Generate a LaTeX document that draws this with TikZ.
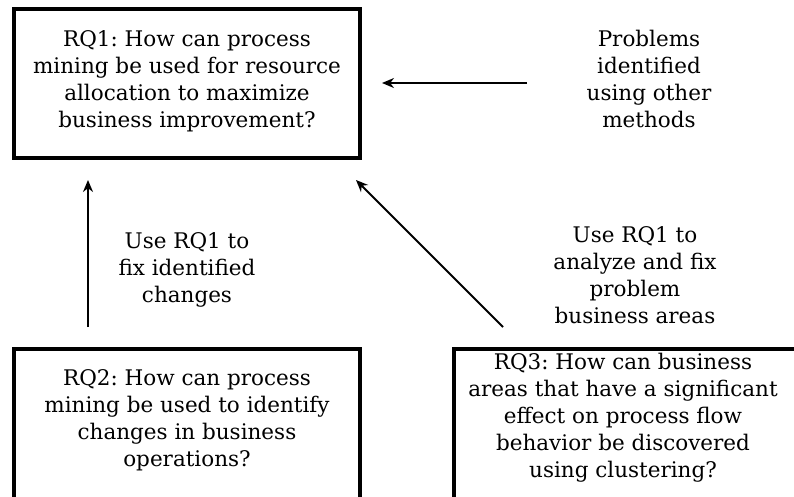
\documentclass[tikz,border=0pt]{standalone}
\usepackage{fontspec}
\setmainfont{DejaVu Serif}
\usetikzlibrary{arrows.meta}
\frenchspacing
\begin{document}
\begin{tikzpicture}[x=1pt,y=-1pt,
  qbox/.style={draw,line width=4pt,inner sep=0pt},
  lbl/.style={align=center,inner sep=0pt,font=\fontsize{21.5}{27}\selectfont},
  arr/.style={line width=2pt,-{Stealth[length=12pt,width=10pt]}}]
\useasboundingbox (0,0) rectangle (794,497);
\clip (0,0) rectangle (794,497);
\node[qbox,minimum width=346pt,minimum height=149pt] (rq1) at (187,83.5) {};
\node[lbl] (rq1t) at (187,81) {RQ1: How can process\\mining be used for resource\\allocation to maximize\\business improvement?};
\node[qbox,minimum width=346pt,minimum height=170pt] (rq2) at (187,434) {};
\node[lbl] (rq2t) at (187,420) {RQ2: How can process\\mining be used to identify\\changes in business\\operations?};
\node[qbox,minimum width=346pt,minimum height=170pt] (rq3) at (627,434) {};
\node[lbl] (rq3t) at (623,418) {RQ3: How can business\\areas that have a significant\\effect on process flow\\behavior be discovered\\using clustering?};
\node[lbl] (prob) at (649,79) {Problems\\identified\\using other\\methods};
\node[lbl] (use1) at (187,270) {Use RQ1 to\\fix identified\\changes};
\node[lbl] (use2) at (635,275) {Use RQ1 to\\analyze and fix\\problem\\business areas};
\coordinate (p1) at (527,83);
\coordinate (p2) at (382,83);
\draw[arr] (p1) -- (p2);
\coordinate (v1) at (88,327);
\coordinate (v2) at (88,180);
\draw[arr] (v1) -- (v2);
\coordinate (d1) at (503,327);
\coordinate (d2) at (356,180);
\draw[arr] (d1) -- (d2);
\end{tikzpicture}
\end{document}
